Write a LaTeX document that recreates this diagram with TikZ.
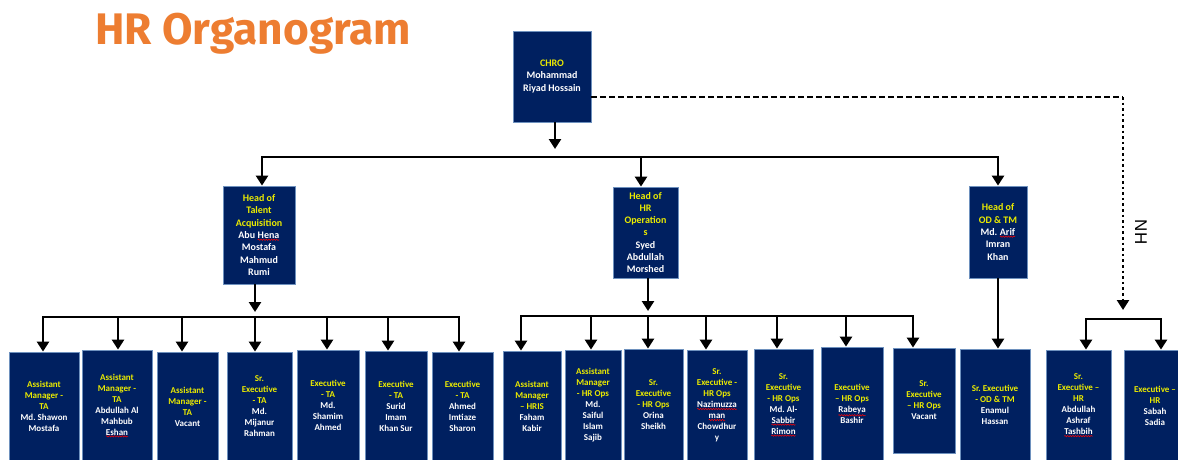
\documentclass[tikz,border=0pt]{standalone}
\usepackage{fontspec}
\setmainfont{Carlito}
\newfontfamily\titlefont{Fira Sans}
\newfontfamily\nhfont{Liberation Sans}
\usetikzlibrary{arrows.meta,calc,decorations.pathmorphing}
\frenchspacing
\definecolor{navy}{RGB}{0,32,96}
\definecolor{bord}{RGB}{110,145,190}
\definecolor{ylw}{RGB}{235,235,0}
\definecolor{orng}{RGB}{237,125,49}
\newcommand{\Y}[1]{\textcolor{ylw}{#1}}
\newcommand{\rw}[1]{\tikz[baseline=(w.base)]{\node[inner sep=0pt,outer sep=0pt,minimum width=0pt,minimum height=0pt,draw=none,fill=none,anchor=center,align=center] (w) {#1}; \draw[red, line width=0.5pt, dash pattern=on 1pt off 0pt, fill=none, decorate, decoration={snake,amplitude=0.7pt,segment length=2.6pt}] ([yshift=-1.2pt]w.south west) -- ([yshift=-1.2pt]w.south east);}}
\newcommand{\bx}[7]{\node[#2, minimum width={(#4-#3)*1pt}, minimum height={(#6-#5)*1pt}] (#1) at ({(#3+#4)/2},{(#5+#6)/2}) {#7};}
\begin{document}
\begin{tikzpicture}[x=1pt,y=-1pt,
 box/.style={draw=bord, fill=navy, line width=0.8pt, inner sep=0pt, text=white, align=center},
 bot/.style={box, font=\bfseries\fontsize{9}{11}\selectfont},
 head/.style={box, font=\bfseries\fontsize{10}{12.3}\selectfont},
 arr/.style={line width=2.8pt, -{Triangle[width=12pt,length=10pt]}},
 bar/.style={line width=2.4pt, line cap=rect},
 nhdash/.style={line width=2pt, dash pattern=on 6pt off 3pt},
 nhdot/.style={arr, line width=2.4pt, dash pattern=on 2.6pt off 3pt},
]
\useasboundingbox (0,0) rectangle (1178,459);
\clip (0,0) rectangle (1178,459);

\node[anchor=base west, inner sep=0pt, text=orng, font=\titlefont\bfseries\fontsize{44.2}{44.2}\selectfont] (title) at (95,44) {HR Organogram};

% top boxes
\bx{chro}{head}{513}{591}{31}{122}{\Y{CHRO}\\Mohammad\\Riyad Hossain}
\bx{hta}{head}{223}{295}{186}{284}{\Y{Head of}\\\Y{Talent}\\\Y{Acquisition}\\Abu \rw{Hena}\\Mostafa\\Mahmud\\Rumi}
\bx{hhr}{head}{613}{678}{187}{278}{\Y{Head of}\\\Y{HR}\\\Y{Operation}\\\Y{s}\\Syed\\Abdullah\\Morshed}
\bx{hod}{head}{969}{1027}{186}{278}{\Y{Head of}\\\Y{OD \& TM}\\Md. \rw{Arif}\\Imran\\Khan}

% bottom boxes
\bx{b1}{bot}{9}{79}{352}{461}{\Y{Assistant}\\\Y{Manager -}\\\Y{TA}\\Md. Shawon\\Mostafa}
\bx{b2}{bot}{82}{152}{350}{461}{\Y{Assistant}\\\Y{Manager -}\\\Y{TA}\\Abdullah Al\\Mahbub\\\rw{Eshan}}
\bx{b3}{bot}{157}{218}{352}{461}{\Y{Assistant}\\\Y{Manager -}\\\Y{TA}\\Vacant}
\bx{b4}{bot}{227}{292}{352}{461}{\Y{Sr.}\\\Y{Executive}\\\Y{- TA}\\Md.\\Mijanur\\Rahman}
\bx{b5}{bot}{297}{359}{350}{461}{\Y{Executive}\\\Y{- TA}\\Md.\\Shamim\\Ahmed}
\bx{b6}{bot}{365}{427}{351}{461}{\Y{Executive}\\\Y{- TA}\\Surid\\Imam\\Khan Sur}
\bx{b7}{bot}{432}{493}{352}{461}{\Y{Executive}\\\Y{- TA}\\Ahmed\\Imtiaze\\Sharon}
\bx{b8}{bot}{503}{561}{351}{461}{\Y{Assistant}\\\Y{Manager}\\\Y{– HRIS}\\Faham\\Kabir}
\bx{b9}{bot}{565}{621}{350}{461}{\Y{Assistant}\\\Y{Manager}\\\Y{- HR Ops}\\Md.\\Saiful\\Islam\\Sajib}
\bx{b10}{bot}{624}{683}{349}{461}{\Y{Sr.}\\\Y{Executive}\\\Y{- HR Ops}\\Orina\\Sheikh}
\bx{b11}{bot}{687}{747}{350}{461}{\Y{Sr.}\\\Y{Executive -}\\\Y{HR Ops}\\\rw{Nazimuzza}\\\rw{man}\\Chowdhur\\y}
\bx{b12}{bot}{754}{813}{349}{461}{\Y{Sr.}\\\Y{Executive}\\\Y{- HR Ops}\\Md. Al-\\\rw{Sabbir}\\\rw{Rimon}}
\bx{b13}{bot}{821}{883}{347}{461}{\Y{Executive}\\\Y{– HR Ops}\\\rw{Rabeya}\\Bashir}
\bx{b14}{bot}{893}{955}{348}{453}{\Y{Sr.}\\\Y{Executive}\\\Y{– HR Ops}\\Vacant}
\bx{b15}{bot}{960}{1030}{349}{461}{\Y{Sr. Executive}\\\Y{- OD \& TM}\\Enamul\\Hassan}
\bx{b16}{bot}{1046}{1111}{350}{461}{\Y{Sr.}\\\Y{Executive –}\\\Y{HR}\\Abdullah\\Ashraf\\\rw{Tashbih}}
\bx{b17}{bot}{1124}{1186}{350}{461}{\Y{Executive –}\\\Y{HR}\\Sabah\\Sadia}

% top level connectors
\coordinate (M1) at (555,149);
\coordinate (L1) at (262,157);
\coordinate (C1) at (641,157);
\coordinate (R1) at (998,157);
\draw[arr] (chro.south -| M1) -- (M1);
\draw[bar] (L1) -- (R1);
\draw[arr] (L1) -- (L1 |- hta.north);
\draw[arr] (C1) -- (C1 |- hhr.north);
\draw[arr] (R1) -- (R1 |- hod.north);

% TA group
\coordinate (TA0) at (255,312);
\coordinate (TAL) at (43,317);
\coordinate (TAR) at (459,317);
\draw[arr] (hta.south -| TA0) -- (TA0);
\draw[bar] (TAL) -- (TAR);
\foreach \x/\b in {43/b1,118/b2,182/b3,255/b4,327/b5,388/b6,459/b7}{
  \coordinate (tp) at (\x,317);
  \draw[arr] (tp) -- (tp |- \b.north);
}

% HR group
\coordinate (HR0) at (648,311);
\coordinate (HRL) at (521,316);
\coordinate (HRR) at (913,316);
\draw[arr] (hhr.south -| HR0) -- (HR0);
\draw[bar] (HRL) -- (HRR);
\foreach \x/\b in {521/b8,591/b9,648/b10,706/b11,777/b12,846/b13,913/b14}{
  \coordinate (tp) at (\x,316);
  \draw[arr] (tp) -- (tp |- \b.north);
}

% OD
\draw[arr] (hod.south) -- (hod.south |- b15.north);

% NH
\coordinate (N0) at (591,97);
\coordinate (N1) at (1123,97);
\coordinate (N2) at (1123,310);
\coordinate (NL) at (1086,319);
\coordinate (NR) at (1161,319);
\draw[nhdash] (N0) -- (N1);
\draw[nhdot] (N1) -- (N2);
\draw[bar] (NL) -- (NR);
\draw[arr] (NL) -- (NL |- b16.north);
\draw[arr] (NR) -- (NR |- b17.north);
\node[rotate=-90, inner sep=0pt, font=\nhfont\fontsize{17}{17}\selectfont] (nh) at (1141,232) {NH};
\end{tikzpicture}
\end{document}
